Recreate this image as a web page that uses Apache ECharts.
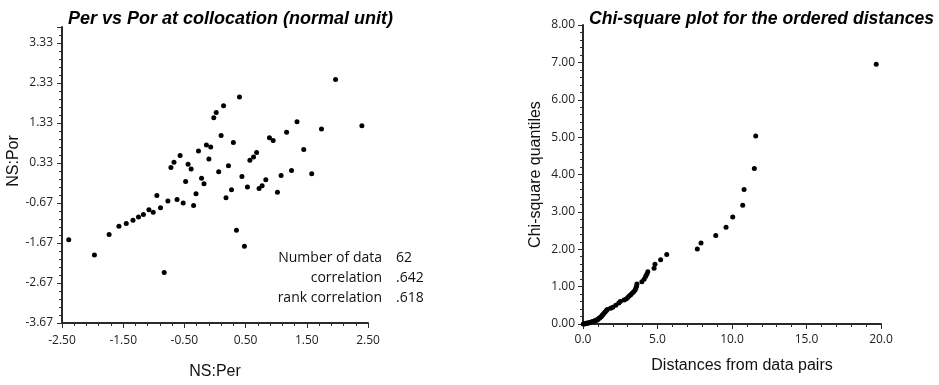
<!DOCTYPE html>
<html>
<head>
<meta charset="utf-8">
<script src="https://cdn.jsdelivr.net/npm/echarts@6/dist/echarts.min.js"></script>
<style>
html,body{margin:0;padding:0;background:#fff;}
#c{width:939px;height:385px;}
</style>
</head>
<body>
<div id="c"></div>
<script>
// Left scatter: NS:Per (x) vs NS:Por (y)
const nsPer = [-2.39,-1.97,-1.73,-1.57,-1.45,-1.34,-1.25,-1.17,-1.08,-1.01,-0.95,-0.89,-0.83,-0.77,-0.62,-0.52,-0.48,-0.72,-0.39,-0.35,-0.31,-0.22,-0.18,0.06,0.18,0.27,0.22,0.35,0.44,0.48,0.53,0.72,0.77,0.83,1.02,1.08,1.25,
  0.40,0.14,0.02,-0.02,0.10,0.30,-0.14,-0.07,-0.27,-0.57,-0.10,-0.67,-0.44,0.57,0.63,0.68,
  1.97,2.40,1.34,1.17,1.74,0.89,0.95,1.45,1.58];
const nsPor = [-1.59,-1.97,-1.46,-1.25,-1.18,-1.10,-1.02,-0.96,-0.84,-0.90,-0.48,-0.79,-2.41,-0.62,-0.58,-0.67,-0.13,0.22,0.18,-0.73,-0.44,-0.05,-0.19,0.11,-0.54,-0.34,0.26,-1.35,-0.01,-1.75,-0.27,-0.31,-0.24,-0.09,-0.40,0.02,0.14,
  1.98,1.76,1.59,1.46,1.02,0.84,0.78,0.73,0.63,0.52,0.43,0.35,0.30,0.40,0.48,0.59,
  2.42,1.26,1.36,1.10,1.18,0.96,0.89,0.67,0.06];

// Right chart: ordered distances (x) vs chi-square quantiles (y)
const distances = [0.02,0.06,0.10,0.15,0.20,0.26,0.32,0.38,0.45,0.52,0.60,0.68,0.75,0.82,0.88,0.95,1.00,1.06,1.13,1.19,1.25,1.30,1.36,1.43,1.50,1.57,1.63,1.85,2.00,2.20,2.40,2.50,2.75,2.90,3.00,3.10,3.20,3.30,3.40,3.50,3.55,3.60,3.62,3.95,4.10,4.20,4.28,4.35,
  4.77,4.83,5.21,5.62,7.67,7.92,8.91,9.60,10.05,10.72,10.81,11.50,11.59,19.68];
const chiQuantiles = [0.00,0.00,0.01,0.01,0.02,0.02,0.03,0.03,0.04,0.05,0.06,0.07,0.08,0.09,0.10,0.11,0.13,0.15,0.17,0.19,0.21,0.24,0.26,0.30,0.33,0.36,0.39,0.42,0.45,0.50,0.56,0.60,0.64,0.67,0.71,0.75,0.78,0.82,0.86,0.91,0.96,1.02,1.07,1.13,1.20,1.27,1.33,1.40,
  1.49,1.60,1.72,1.86,2.01,2.17,2.37,2.59,2.86,3.18,3.60,4.16,5.03,6.95];

const statLabels = ['Number of data','correlation','rank correlation'];
const statValues = ['62','.642','.618'];

const titles = ['Per vs Por at collocation (normal unit)','Chi-square plot for the ordered distances'];

const leftData = nsPer.map((x,i)=>[x, nsPor[i]]);
const rightData = distances.map((x,i)=>[x, chiQuantiles[i]]);

const axisColor = '#2a2a2a';
const labelFont = {fontFamily:'Open Sans', fontSize:12, color:'#222'};
const nameFont = {fontFamily:'Liberation Sans', fontSize:16, color:'#111'};

function baseAxis(extra){
  return Object.assign({
    axisLine:{show:true, onZero:false, lineStyle:{color:axisColor, width:2}},
    axisTick:{show:true, inside:false, length:5, lineStyle:{color:axisColor, width:1}},
    minorTick:{show:true, splitNumber:5, length:3, lineStyle:{color:axisColor, width:1}},
    splitLine:{show:false},
    minorSplitLine:{show:false},
    nameLocation:'middle'
  }, extra);
}

const chart = echarts.init(document.getElementById('c'), null, {renderer:'canvas'});

const statGraphics = [];
statLabels.forEach((t,i)=>{
  statGraphics.push({type:'text', x:382, y:258 + i*20, style:{text:t, fill:'#111', font:'14px "Open Sans"', textAlign:'right', textVerticalAlign:'middle'}});
  statGraphics.push({type:'text', x:396, y:258 + i*20, style:{text:statValues[i], fill:'#111', font:'14px "Open Sans"', textAlign:'left', textVerticalAlign:'middle'}});
});

chart.setOption({
  animation:false,
  backgroundColor:'#fff',
  title:[
    {text:titles[0], left:63, top:5, textStyle:{fontFamily:'Liberation Sans', fontSize:18, fontWeight:'bold', fontStyle:'italic', color:'#000'}},
    {text:titles[1], left:584, top:5, textStyle:{fontFamily:'Liberation Sans', fontSize:17.6, fontWeight:'bold', fontStyle:'italic', color:'#000'}}
  ],
  grid:[
    {left:62, top:27, width:306, height:306, containLabel:false},
    {left:583, top:25, width:298, height:299, containLabel:false}
  ],
  xAxis:[
    baseAxis({gridIndex:0, type:'value', min:-2.5, max:2.5, interval:1,
      name:'NS:Per', nameGap:41, nameTextStyle:nameFont,
      axisLabel:Object.assign({margin:12, formatter:v=>v.toFixed(2)}, labelFont)}),
    baseAxis({gridIndex:1, type:'value', min:0, max:20, interval:5,
      name:'Distances from data pairs', nameGap:34, nameTextStyle:Object.assign({padding:[0,0,0,20]}, nameFont),
      axisLabel:Object.assign({margin:10, formatter:v=>v.toFixed(1)}, labelFont)})
  ],
  yAxis:[
    baseAxis({gridIndex:0, type:'value', min:-3.67, max:3.73, interval:1,
      name:'NS:Por', nameGap:38, nameTextStyle:Object.assign({padding:[0,0,0,28]}, nameFont),
      axisLabel:Object.assign({margin:9, showMaxLabel:false, padding:[0,0,7,0], formatter:v=>v.toFixed(2)}, labelFont)}),
    baseAxis({gridIndex:1, type:'value', min:0, max:8, interval:1,
      name:'Chi-square quantiles', nameGap:39, nameTextStyle:nameFont,
      axisLabel:Object.assign({margin:8, padding:[0,0,6,0], formatter:v=>v.toFixed(2)}, labelFont)})
  ],
  series:[
    {type:'scatter', xAxisIndex:0, yAxisIndex:0, data:leftData, symbol:'circle', symbolSize:5, itemStyle:{color:'#000', opacity:1}},
    {type:'scatter', xAxisIndex:1, yAxisIndex:1, data:rightData, symbol:'circle', symbolSize:5, itemStyle:{color:'#000', opacity:1}}
  ],
  graphic: statGraphics
});
</script>
</body>
</html>
